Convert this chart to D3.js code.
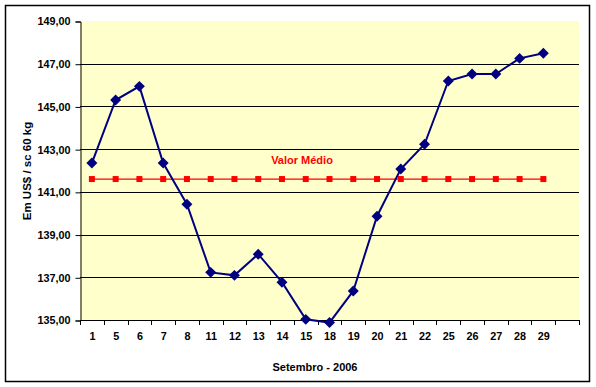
<!DOCTYPE html>
<html>
<head>
<meta charset="utf-8">
<script src="https://cdn.jsdelivr.net/npm/d3@7"></script>
<style>
  body { margin: 0; background: #fff; }
  text { font-family: "Liberation Sans", Arial, sans-serif; font-weight: bold; }
</style>
</head>
<body>
<svg width="596" height="387"></svg>
<script>
// dias de setembro e cotacao (US$ / saca 60 kg)
const dias = ['1', '5', '6', '7', '8', '11', '12', '13', '14', '15', '18', '19', '20', '21', '22', '25', '26', '27', '28', '29'];
const cotacao = [142.35, 145.3, 145.94, 142.35, 140.42, 137.23, 137.09, 138.08, 136.77, 135.03,
  134.88, 136.36, 139.86, 142.07, 143.23, 146.19, 146.52, 146.52, 147.25, 147.49];
const valorMedio = 141.6;
const yTicks = [135, 137, 139, 141, 143, 145, 147, 149];

const svg = d3.select('svg');
const margin = { left: 80, top: 21, right: 579, bottom: 320 };

// frame
svg.append('rect')
  .attr('x', 5.5).attr('y', 5.5)
  .attr('width', 584).attr('height', 376)
  .attr('fill', '#fff')
  .attr('stroke', '#000')
  .attr('stroke-width', 1.5);

// 21 slots, last one stays empty
const x = d3.scaleBand()
  .domain(dias.concat(['']))
  .range([margin.left, margin.right]);

const y = d3.scaleLinear()
  .domain([135, 149])
  .range([margin.bottom, margin.top]);

svg.append('rect')
  .attr('x', margin.left).attr('y', margin.top)
  .attr('width', margin.right - margin.left)
  .attr('height', margin.bottom - margin.top)
  .attr('fill', '#ffffcc');

// gridlines
svg.append('g')
  .selectAll('line')
  .data(yTicks.filter(d => d > 135 && d < 149))
  .enter().append('line')
  .attr('x1', margin.left).attr('x2', margin.right)
  .attr('y1', d => Math.round(y(d)) + 0.5)
  .attr('y2', d => Math.round(y(d)) + 0.5)
  .attr('stroke', '#000');

const fmt = d => d3.format('.2f')(d).replace('.', ',');

const yAxis = svg.append('g')
  .attr('transform', `translate(${margin.left + 0.5},0.5)`)
  .call(d3.axisLeft(y).tickValues(yTicks).tickFormat(fmt).tickSize(5).tickPadding(5));
yAxis.selectAll('text').attr('font-size', '10.8px').attr('fill', '#000')
  .attr('font-family', '"Liberation Sans", Arial, sans-serif');
yAxis.select('.domain').attr('stroke', '#000');

const xAxis = svg.append('g')
  .attr('transform', `translate(0.5,${margin.bottom + 0.5})`)
  .call(d3.axisBottom(x).tickSize(0).tickPadding(12));
xAxis.select('.domain').remove();
xAxis.selectAll('text').attr('font-size', '10.8px').attr('fill', '#000')
  .attr('font-family', '"Liberation Sans", Arial, sans-serif');
svg.append('line')
  .attr('x1', margin.left).attr('x2', margin.right)
  .attr('y1', margin.bottom + 0.5).attr('y2', margin.bottom + 0.5)
  .attr('stroke', '#000');
// ticks between categories
svg.append('g')
  .selectAll('line')
  .data(x.domain())
  .enter().append('line')
  .attr('x1', d => Math.round(x(d)) + 0.5)
  .attr('x2', d => Math.round(x(d)) + 0.5)
  .attr('y1', margin.bottom).attr('y2', margin.bottom + 5)
  .attr('stroke', '#000');
svg.append('line')
  .attr('x1', margin.right + 0.5).attr('x2', margin.right + 0.5)
  .attr('y1', margin.bottom).attr('y2', margin.bottom + 5)
  .attr('stroke', '#000');

const cx = d => x(d) + x.bandwidth() / 2;

// valor medio
svg.append('line')
  .attr('x1', cx(dias[0])).attr('x2', cx(dias[dias.length - 1]))
  .attr('y1', y(valorMedio)).attr('y2', y(valorMedio))
  .attr('stroke', '#ff0000')
  .attr('stroke-width', 1.2);
svg.append('g')
  .selectAll('rect')
  .data(dias)
  .enter().append('rect')
  .attr('x', d => cx(d) - 3)
  .attr('y', y(valorMedio) - 3)
  .attr('width', 6).attr('height', 6)
  .attr('fill', '#ff0000');
svg.append('text')
  .attr('x', 302).attr('y', 164)
  .attr('text-anchor', 'middle')
  .attr('font-size', '11px')
  .attr('fill', '#ff0000')
  .text('Valor Médio');

// serie
const line = d3.line()
  .x((d, i) => cx(dias[i]))
  .y(d => y(d));
svg.append('path')
  .datum(cotacao)
  .attr('d', line)
  .attr('fill', 'none')
  .attr('stroke', '#000080')
  .attr('stroke-width', 2);
// square turned 45 degrees
svg.append('g')
  .selectAll('path')
  .data(cotacao)
  .enter().append('path')
  .attr('d', d3.symbol().type(d3.symbolSquare).size(60))
  .attr('transform', (d, i) => `translate(${cx(dias[i])},${y(d)}) rotate(45)`)
  .attr('fill', '#000080');

// titles
svg.append('text')
  .attr('transform', 'translate(31,171) rotate(-90)')
  .attr('text-anchor', 'middle')
  .attr('font-size', '11.5px')
  .text('Em US$ / sc 60 kg');
svg.append('text')
  .attr('x', 315).attr('y', 371)
  .attr('text-anchor', 'middle')
  .attr('font-size', '11px')
  .text('Setembro - 2006');
</script>
</body>
</html>
